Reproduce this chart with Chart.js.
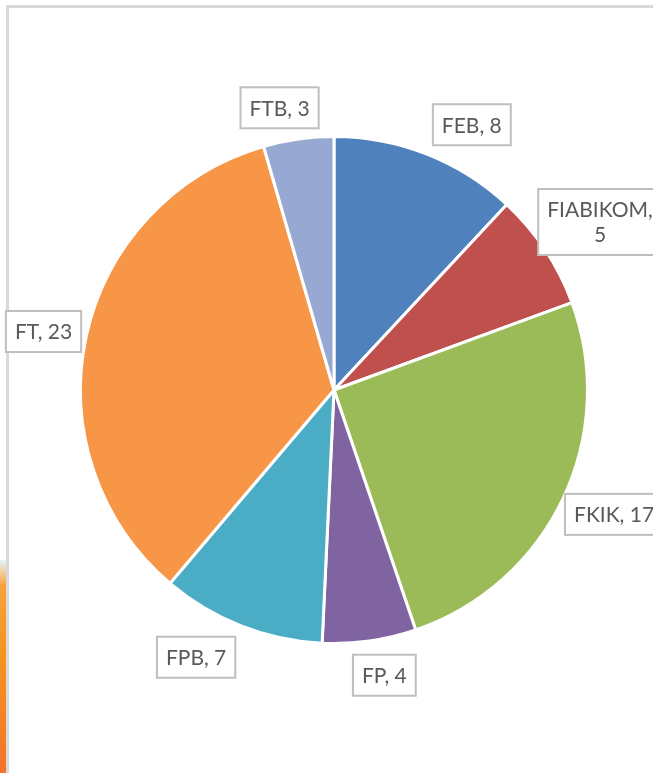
<!DOCTYPE html>
<html>
<head>
<meta charset="utf-8">
<script src="https://cdn.jsdelivr.net/npm/chart.js@4"></script>
<style>
  html, body { margin: 0; padding: 0; background: #fff; overflow: hidden; }
  #wrap { position: relative; width: 653px; height: 773px; }
  #frame {
    position: absolute; left: 6px; top: 5px; width: 700px; height: 800px;
    border-left: 3px solid #d9d9d9; border-top: 3px solid #d9d9d9;
  }
  #strip {
    position: absolute; left: 0; top: 560px; width: 7px; height: 213px;
    background: linear-gradient(to bottom, #e8f6fb 0%, #f7a13a 12%, #f6931f 45%, #f2732a 100%);
  }
  canvas { position: absolute; left: 0; top: 0; }
</style>
</head>
<body>
<div id="wrap">
  <div id="strip"></div>
  <div id="frame"></div>
  <canvas id="pie" width="653" height="773"></canvas>
</div>
<script>
// data
const faculties = ['FEB', 'FIABIKOM', 'FKIK', 'FP', 'FPB', 'FT', 'FTB'];
const counts = [8, 5, 17, 4, 7, 23, 3];
const sliceColors = ['#4f81bd', '#c0504d', '#9bbb59', '#8064a2', '#4bacc6', '#f79646', '#97a9d3'];

// label boxes outside the pie, placed from each arc's mid angle
const calloutPlugin = {
  id: 'callouts',
  afterDatasetsDraw(chart, args, opts) {
    const ctx = chart.ctx;
    const meta = chart.getDatasetMeta(0);
    ctx.save();
    ctx.font = opts.font;
    ctx.textAlign = 'center';
    ctx.textBaseline = 'middle';
    meta.data.forEach((arc, i) => {
      const p = arc.getProps(['x', 'y', 'startAngle', 'endAngle', 'outerRadius'], true);
      const mid = (p.startAngle + p.endAngle) / 2;
      const cx = Math.cos(mid), cy = Math.sin(mid);
      const ax = p.x + (p.outerRadius + opts.gap) * cx;
      const ay = p.y + (p.outerRadius + opts.gap) * cy;

      let lines = [faculties[i] + ', ' + counts[i]];
      if (ctx.measureText(lines[0]).width > opts.maxWidth) {
        lines = [faculties[i] + ',', String(counts[i])];
      }
      const tw = Math.max(...lines.map(l => ctx.measureText(l).width));
      const w = tw + opts.padX * 2;
      const h = lines.length * opts.lineH + opts.padY * 2;
      const nudge = opts.nudge[i] || [0, 0];
      const bx = ax + cx * w / 2 + nudge[0];
      const by = ay + cy * h / 2 + nudge[1];

      ctx.fillStyle = '#ffffff';
      ctx.fillRect(bx - w / 2, by - h / 2, w, h);
      ctx.strokeStyle = '#bfbfbf';
      ctx.lineWidth = 2;
      ctx.strokeRect(bx - w / 2, by - h / 2, w, h);

      ctx.fillStyle = '#595959';
      lines.forEach((l, k) => {
        const ly = by - h / 2 + opts.padY + opts.lineH * (k + 0.5) + 1;
        ctx.fillText(l, bx, ly);
      });
    });
    ctx.restore();
  }
};

new Chart(document.getElementById('pie'), {
  type: 'pie',
  data: {
    labels: faculties,
    datasets: [{
      data: counts,
      backgroundColor: sliceColors,
      borderColor: '#ffffff',
      borderWidth: 3
    }]
  },
  options: {
    responsive: false,
    animation: false,
    layout: { padding: { left: 79, right: 64, top: 135, bottom: 128 } },
    plugins: {
      legend: { display: false },
      title: { display: false },
      tooltip: { enabled: false },
      callouts: {
        font: '21px Lato, "Open Sans", sans-serif',
        gap: 10,
        padX: 9,
        padY: 8,
        lineH: 25,
        maxWidth: 110,
        nudge: [[27, -1], [-5, -4], [-2, 2], [9, 4], [-27, 3], [4, 1], [-12, -1]]
      }
    }
  },
  plugins: [calloutPlugin]
});
</script>
</body>
</html>
